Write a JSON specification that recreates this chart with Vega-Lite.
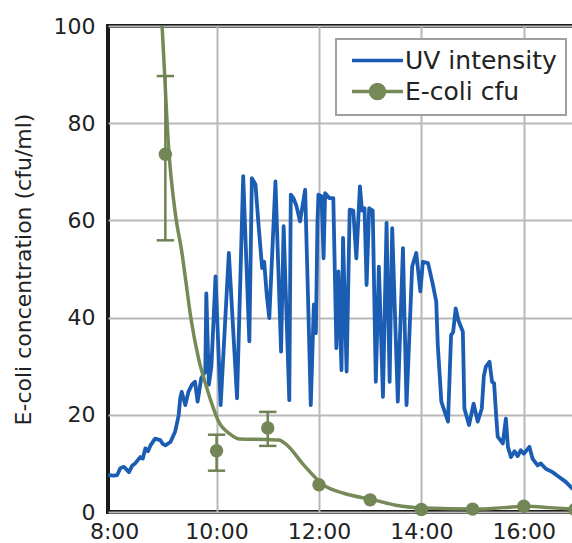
{
  "$schema": "https://vega.github.io/schema/vega-lite/v6.json",
  "autosize": {"type": "none"},
  "padding": {"left": 108, "top": 26, "right": 0, "bottom": 31},
  "width": 467,
  "height": 486,
  "background": "white",
  "config": {
    "font": "DejaVu Sans",
    "view": {"stroke": "#1a1a1a", "strokeWidth": 4},
    "axis": {
      "domain": false,
      "ticks": false,
      "gridColor": "#b8b8b8",
      "gridWidth": 2,
      "labelFont": "DejaVu Sans",
      "labelFontSize": 22,
      "labelColor": "#222222",
      "titleFont": "DejaVu Sans",
      "titleFontSize": 22,
      "titleFontWeight": "normal",
      "titleColor": "#222222"
    }
  },
  "datasets": {
    "uv": [
      {"t": 7.88, "v": 7.6}, {"t": 8.00, "v": 7.5}, {"t": 8.06, "v": 7.6}, {"t": 8.12, "v": 9.0}, {"t": 8.19, "v": 9.3}, {"t": 8.29, "v": 8.2},
      {"t": 8.35, "v": 9.5}, {"t": 8.41, "v": 10.0}, {"t": 8.51, "v": 11.3}, {"t": 8.56, "v": 11.0}, {"t": 8.61, "v": 13.1},
      {"t": 8.66, "v": 12.5}, {"t": 8.71, "v": 13.7}, {"t": 8.80, "v": 15.1}, {"t": 8.90, "v": 14.8}, {"t": 8.95, "v": 14.0},
      {"t": 9.00, "v": 13.7}, {"t": 9.10, "v": 14.4}, {"t": 9.19, "v": 16.5}, {"t": 9.26, "v": 19.9}, {"t": 9.29, "v": 23.4},
      {"t": 9.32, "v": 24.7}, {"t": 9.39, "v": 22.0}, {"t": 9.45, "v": 24.7}, {"t": 9.52, "v": 26.2}, {"t": 9.58, "v": 26.8},
      {"t": 9.63, "v": 22.7}, {"t": 9.70, "v": 27.5}, {"t": 9.78, "v": 28.9}, {"t": 9.80, "v": 45.0}, {"t": 9.85, "v": 26.2},
      {"t": 9.90, "v": 30.0}, {"t": 9.98, "v": 48.5}, {"t": 10.08, "v": 22.0}, {"t": 10.24, "v": 53.3}, {"t": 10.40, "v": 23.4},
      {"t": 10.52, "v": 69.1}, {"t": 10.64, "v": 35.1}, {"t": 10.69, "v": 68.7}, {"t": 10.76, "v": 67.4}, {"t": 10.82, "v": 59.1},
      {"t": 10.89, "v": 50.2}, {"t": 10.93, "v": 51.5}, {"t": 10.98, "v": 44.7}, {"t": 11.03, "v": 39.9}, {"t": 11.15, "v": 68.0},
      {"t": 11.26, "v": 33.0}, {"t": 11.31, "v": 58.8}, {"t": 11.42, "v": 23.0}, {"t": 11.45, "v": 65.3}, {"t": 11.50, "v": 64.6},
      {"t": 11.56, "v": 63.0}, {"t": 11.63, "v": 59.8}, {"t": 11.73, "v": 66.3}, {"t": 11.79, "v": 42.7}, {"t": 11.84, "v": 22.0},
      {"t": 11.90, "v": 42.7}, {"t": 11.94, "v": 36.8}, {"t": 11.97, "v": 59.5}, {"t": 11.99, "v": 65.3}, {"t": 12.05, "v": 65.0},
      {"t": 12.09, "v": 52.2}, {"t": 12.12, "v": 65.6}, {"t": 12.20, "v": 64.6}, {"t": 12.28, "v": 64.6}, {"t": 12.34, "v": 33.7},
      {"t": 12.38, "v": 49.5}, {"t": 12.44, "v": 29.2}, {"t": 12.47, "v": 56.4}, {"t": 12.54, "v": 28.9}, {"t": 12.60, "v": 62.2},
      {"t": 12.67, "v": 62.0}, {"t": 12.73, "v": 52.2}, {"t": 12.80, "v": 67.0}, {"t": 12.84, "v": 62.0}, {"t": 12.89, "v": 62.5},
      {"t": 12.93, "v": 46.7}, {"t": 12.98, "v": 62.5}, {"t": 13.05, "v": 62.0}, {"t": 13.11, "v": 26.8}, {"t": 13.17, "v": 50.5},
      {"t": 13.25, "v": 23.7}, {"t": 13.32, "v": 59.5}, {"t": 13.38, "v": 26.8}, {"t": 13.43, "v": 58.4}, {"t": 13.54, "v": 22.7},
      {"t": 13.64, "v": 54.3}, {"t": 13.71, "v": 22.0}, {"t": 13.82, "v": 50.5}, {"t": 13.90, "v": 53.3}, {"t": 13.98, "v": 45.4},
      {"t": 14.03, "v": 51.5}, {"t": 14.13, "v": 51.2}, {"t": 14.22, "v": 47.0}, {"t": 14.29, "v": 43.3}, {"t": 14.32, "v": 34.4},
      {"t": 14.39, "v": 22.7}, {"t": 14.52, "v": 18.6}, {"t": 14.58, "v": 36.4}, {"t": 14.62, "v": 37.0}, {"t": 14.67, "v": 41.9},
      {"t": 14.72, "v": 39.5}, {"t": 14.81, "v": 37.1}, {"t": 14.84, "v": 21.3}, {"t": 14.93, "v": 17.9}, {"t": 15.02, "v": 22.3},
      {"t": 15.10, "v": 18.6}, {"t": 15.18, "v": 21.3}, {"t": 15.22, "v": 28.0}, {"t": 15.26, "v": 29.9}, {"t": 15.33, "v": 30.9},
      {"t": 15.38, "v": 26.8}, {"t": 15.42, "v": 26.5}, {"t": 15.46, "v": 19.9}, {"t": 15.49, "v": 15.5}, {"t": 15.59, "v": 14.1},
      {"t": 15.65, "v": 19.2}, {"t": 15.69, "v": 13.4}, {"t": 15.75, "v": 11.3}, {"t": 15.82, "v": 12.5}, {"t": 15.88, "v": 11.5},
      {"t": 15.94, "v": 12.7}, {"t": 16.00, "v": 12.0}, {"t": 16.11, "v": 13.4}, {"t": 16.17, "v": 11.0}, {"t": 16.27, "v": 9.6},
      {"t": 16.33, "v": 10.0}, {"t": 16.43, "v": 8.9}, {"t": 16.56, "v": 8.2}, {"t": 16.69, "v": 7.2}, {"t": 16.82, "v": 6.2},
      {"t": 16.95, "v": 4.8}, {"t": 17.00, "v": 4.5}
    ],
    "fit": [
      {"t": 8.86, "v": 112}, {"t": 8.93, "v": 101}, {"t": 9.07, "v": 74}, {"t": 9.2, "v": 61}, {"t": 9.32, "v": 53.6},
      {"t": 9.40, "v": 47.5}, {"t": 9.50, "v": 39.8}, {"t": 9.65, "v": 31.5}, {"t": 9.81, "v": 25.5}, {"t": 9.90, "v": 22.5},
      {"t": 10.04, "v": 18.6}, {"t": 10.27, "v": 16.0}, {"t": 10.45, "v": 15.0}, {"t": 11.0, "v": 14.9}, {"t": 11.22, "v": 14.8},
      {"t": 11.35, "v": 14.0}, {"t": 11.7, "v": 9.7}, {"t": 12.08, "v": 5.6}, {"t": 12.5, "v": 3.8}, {"t": 13.06, "v": 2.5},
      {"t": 13.5, "v": 1.4}, {"t": 14.07, "v": 0.8}, {"t": 15.06, "v": 0.6}, {"t": 15.6, "v": 0.9}, {"t": 16.07, "v": 1.2},
      {"t": 16.5, "v": 0.9}, {"t": 17.0, "v": 0.6}
    ],
    "pts": [
      {"t": 9, "v": 73.6, "lo": 55.9, "hi": 89.7},
      {"t": 10, "v": 12.6, "lo": 8.5, "hi": 15.9},
      {"t": 11, "v": 17.3, "lo": 13.6, "hi": 20.6},
      {"t": 12, "v": 5.6},
      {"t": 13, "v": 2.5},
      {"t": 14, "v": 0.5},
      {"t": 15, "v": 0.6},
      {"t": 16, "v": 1.2},
      {"t": 17, "v": 0.5}
    ],
    "caps": [
      {"t": 9, "v": 55.9}, {"t": 9, "v": 89.7},
      {"t": 10, "v": 8.5}, {"t": 10, "v": 15.9},
      {"t": 11, "v": 13.6}, {"t": 11, "v": 20.6}
    ]
  },
  "encoding": {
    "x": {
      "field": "t", "type": "quantitative",
      "scale": {"domain": [7.88, 17], "nice": false, "zero": false},
      "axis": {
        "title": null,
        "values": [8, 10, 12, 14, 16],
        "labelExpr": "datum.value + ':00'",
        "labelPadding": 9,
        "labelFlush": false,
        "gridOpacity": {"condition": {"test": "datum.value == 8", "value": 0}, "value": 1}
      }
    },
    "y": {
      "field": "v", "type": "quantitative",
      "scale": {"domain": [0, 100], "nice": false},
      "axis": {"title": "E-coli concentration (cfu/ml)", "values": [0, 20, 40, 60, 80, 100], "labelPadding": 13, "titlePadding": 18, "labelFlush": false}
    }
  },
  "layer": [
    {
      "data": {"name": "uv"},
      "mark": {"type": "line", "strokeWidth": 3.8, "clip": true, "strokeJoin": "round"},
      "encoding": {
        "color": {
          "datum": "UV intensity",
          "scale": {"domain": ["UV intensity", "E-coli cfu"], "range": ["#1b5db3", "#768a57"]},
          "legend": {
            "title": null,
            "orient": "none",
            "legendX": 228,
            "legendY": 13,
            "direction": "vertical",
            "fillColor": "white",
            "strokeColor": "#a0a0a0",
            "padding": 9,
            "rowPadding": 3,
            "symbolType": "stroke",
            "symbolSize": 400,
            "symbolOffset": 20,
            "symbolStrokeWidth": 3.5,
            "labelFont": "DejaVu Sans",
            "labelFontSize": 25,
            "labelColor": "#222222",
            "labelOffset": 15,
            "encode": {
              "legend": {"update": {"strokeWidth": {"value": 2}}},
              "symbols": {
                "update": {
                  "shape": {"signal": "datum.label === 'E-coli cfu' ? 'M-2.55,0L2.55,0M0.7,0A0.7,0.7,0,1,1,-0.7,0A0.7,0.7,0,1,1,0.7,0Z' : 'M-2.55,0L2.55,0'"},
                  "fill": {"signal": "datum.label === 'E-coli cfu' ? '#768a57' : 'transparent'"}
                }
              }
            }
          }
        }
      }
    },
    {
      "data": {"name": "fit"},
      "mark": {"type": "line", "strokeWidth": 3.5, "clip": true, "interpolate": "monotone"},
      "encoding": {"color": {"datum": "E-coli cfu"}}
    },
    {
      "data": {"name": "pts"},
      "mark": {"type": "rule", "color": "#6f8252", "strokeWidth": 2.5},
      "encoding": {
        "y": {"field": "hi", "type": "quantitative"},
        "y2": {"field": "lo"}
      }
    },
    {
      "data": {"name": "caps"},
      "mark": {"type": "point", "shape": "stroke", "size": 300, "color": "#6f8252", "strokeWidth": 2.5, "opacity": 1},
      "encoding": {}
    },
    {
      "data": {"name": "pts"},
      "mark": {"type": "point", "filled": true, "size": 180, "color": "#738656", "opacity": 1},
      "encoding": {}
    }
  ]
}
